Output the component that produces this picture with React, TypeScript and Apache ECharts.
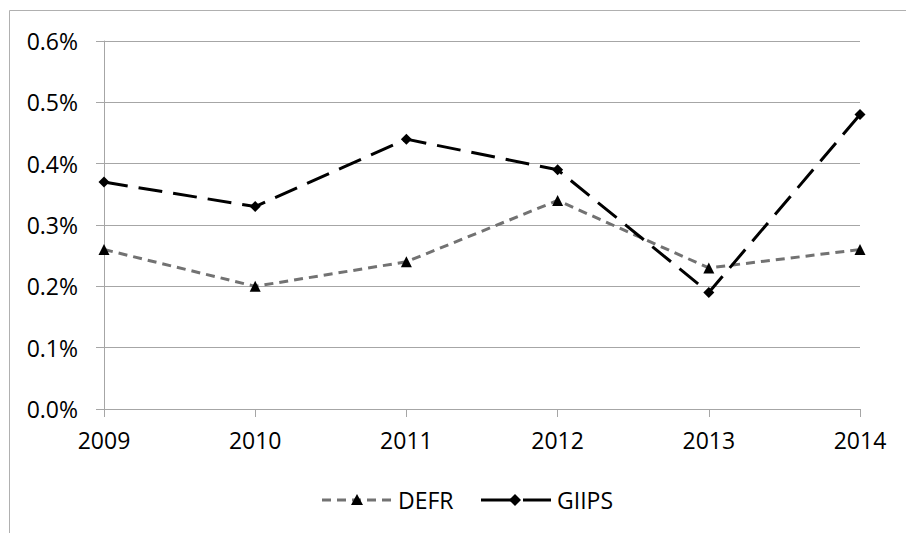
import React, { useEffect, useRef } from "react";
import * as echarts from "echarts";

const years = ["2009", "2010", "2011", "2012", "2013", "2014"];
const defr = [0.26, 0.2, 0.24, 0.34, 0.23, 0.26];
const giips = [0.37, 0.33, 0.44, 0.39, 0.19, 0.48];
const seriesNames = ["DEFR", "GIIPS"];

export default function App() {
  const ref = useRef<HTMLDivElement>(null);
  useEffect(() => {
    const chart = echarts.init(ref.current!, null, { renderer: "svg" });
    const font = "Open Sans";
    const fs = 23;
    const ly = 500;
    const legendItem = (x0: number, name: string, color: string, dash: number[], symbol: any) => [
      {
        type: "line",
        shape: { x1: x0, y1: ly, x2: x0 + 70, y2: ly },
        style: { stroke: color, lineWidth: 3, lineDash: dash },
        silent: true,
      },
      symbol,
      {
        type: "text",
        x: x0 + 76,
        y: ly,
        style: { text: name, font: `${fs}px "${font}"`, fill: "#000", textVerticalAlign: "middle" },
        silent: true,
      },
    ];
    chart.setOption({
      animation: false,
      backgroundColor: "#ffffff",
      textStyle: { fontFamily: font },
      graphic: [
        {
          type: "rect",
          shape: { x: 9.5, y: 10.5, width: 1000, height: 1000 },
          style: { fill: "none", stroke: "#b0b0b0", lineWidth: 1 },
          silent: true,
        },
        ...legendItem(322, seriesNames[0], "#727272", [9, 6], {
          type: "polygon",
          shape: { points: [[357, ly - 6], [363, ly + 5], [351, ly + 5]] },
          style: { fill: "#000" },
          silent: true,
        }),
        ...legendItem(481, seriesNames[1], "#000", [34, 8], {
          type: "polygon",
          shape: { points: [[515, ly - 6], [521, ly], [515, ly + 6], [509, ly]] },
          style: { fill: "#000" },
          silent: true,
        }),
      ],
      grid: { left: 104, right: 46, top: 41, bottom: 124 },
      xAxis: {
        type: "category",
        data: years,
        boundaryGap: false,
        axisLine: { lineStyle: { color: "#a6a6a6", width: 1 } },
        axisTick: { show: true, length: 8, alignWithLabel: true, lineStyle: { color: "#a6a6a6" } },
        axisLabel: { fontFamily: font, fontSize: fs, color: "#000", margin: 19 },
        splitLine: { show: false },
      },
      yAxis: {
        type: "value",
        min: 0,
        max: 0.6,
        interval: 0.1,
        axisLine: { show: true, lineStyle: { color: "#a6a6a6", width: 1 } },
        axisTick: { show: true, length: 8, lineStyle: { color: "#a6a6a6" } },
        axisLabel: {
          fontFamily: font,
          fontSize: fs,
          color: "#000",
          margin: 26,
          formatter: (v: number) => v.toFixed(1) + "%",
        },
        splitLine: { show: true, lineStyle: { color: "#a6a6a6", width: 1 } },
      },
      series: [
        {
          name: seriesNames[0],
          type: "line",
          data: defr,
          symbol: "triangle",
          symbolSize: 11,
          itemStyle: { color: "#000" },
          lineStyle: { color: "#727272", width: 3, type: [9, 6] },
          z: 2,
        },
        {
          name: seriesNames[1],
          type: "line",
          data: giips,
          symbol: "diamond",
          symbolSize: 11,
          itemStyle: { color: "#000" },
          lineStyle: { color: "#000", width: 3, type: [24, 11] },
          z: 3,
        },
      ],
    });
    return () => chart.dispose();
  }, []);
  return (
    <div
      ref={ref}
      style={{ position: "fixed", left: 0, top: 0, width: 906, height: 533 }}
    />
  );
}
